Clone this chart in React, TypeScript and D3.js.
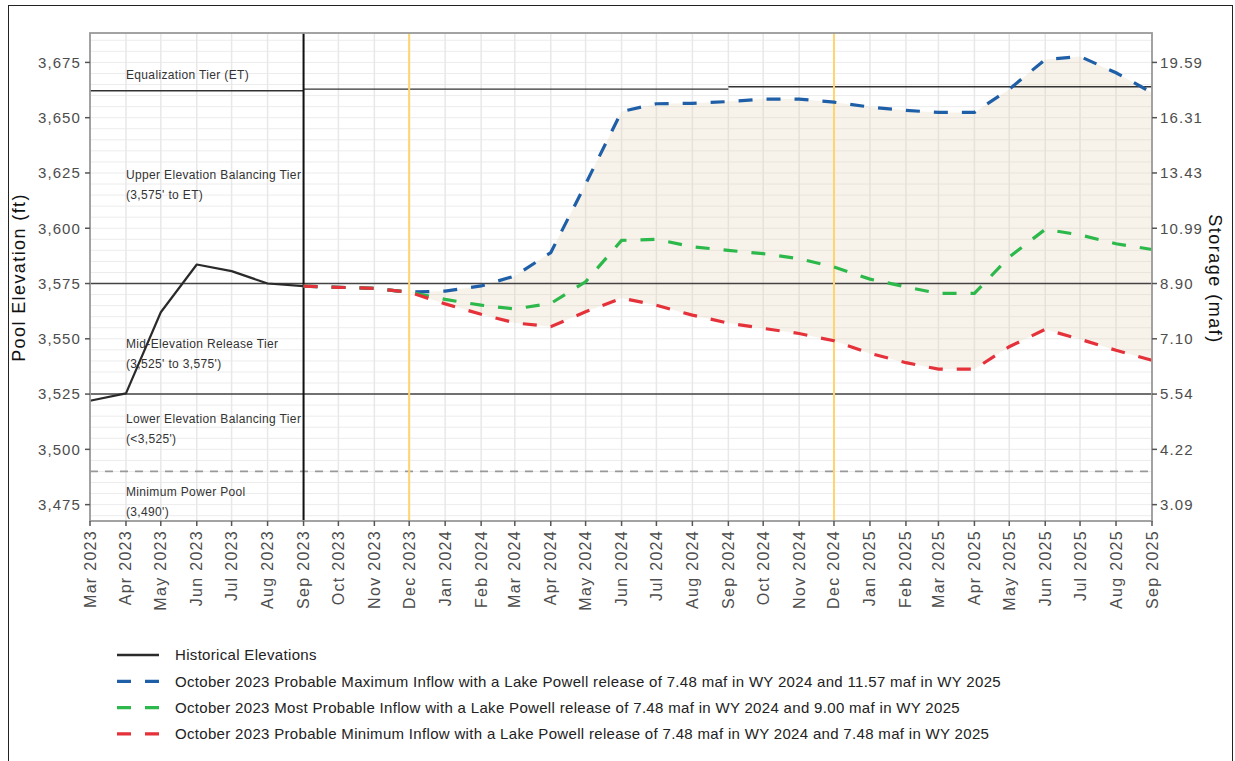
import React from "react";
import * as d3 from "d3";

// ---------- data ----------
const histMonths = ["2023-03", "2023-04", "2023-05", "2023-06", "2023-07", "2023-08", "2023-09"];
const histElev = [3522.0, 3525.3, 3562.0, 3583.6, 3580.6, 3575.0, 3573.8];

const projMonths = [
  "2023-09", "2023-10", "2023-11", "2023-12",
  "2024-01", "2024-02", "2024-03", "2024-04", "2024-05", "2024-06", "2024-07", "2024-08", "2024-09", "2024-10", "2024-11", "2024-12",
  "2025-01", "2025-02", "2025-03", "2025-04", "2025-05", "2025-06", "2025-07", "2025-08", "2025-09",
];
const maxElev = [
  3573.8, 3573.3, 3572.8, 3571.1,
  3571.6, 3573.9, 3578.4, 3589.0, 3620.0, 3652.8, 3656.3, 3656.5, 3657.3, 3658.4, 3658.4, 3657.0,
  3654.8, 3653.3, 3652.4, 3652.4, 3662.9, 3676.3, 3677.7, 3670.3, 3661.3,
];
const mostElev = [
  3573.8, 3573.3, 3572.8, 3571.1,
  3567.8, 3565.2, 3563.5, 3566.0, 3575.8, 3594.5, 3595.0, 3591.6, 3590.0, 3588.5, 3586.2, 3582.5,
  3577.0, 3573.5, 3570.5, 3570.5, 3587.0, 3599.5, 3597.0, 3593.0, 3590.4,
];
const minElev = [
  3573.8, 3573.3, 3572.8, 3571.1,
  3565.8, 3561.1, 3557.2, 3555.5, 3562.2, 3568.4, 3565.2, 3560.7, 3557.1, 3554.7, 3552.4, 3549.1,
  3543.4, 3539.2, 3536.3, 3536.3, 3546.4, 3554.3, 3549.8, 3544.8, 3540.3,
];

// Equalization tier segments: [start month, end month, elevation]
const etStarts = ["2023-03", "2023-09", "2024-09"];
const etEnds = ["2023-09", "2024-09", "2025-09"];
const etElev = [3662.2, 3662.9, 3664.0];

const tierElev = [3575, 3525];
const minPowerPool = 3490;

const leftTicks = [3675, 3650, 3625, 3600, 3575, 3550, 3525, 3500, 3475];
const rightTickLabels = ["19.59", "16.31", "13.43", "10.99", "8.90", "7.10", "5.54", "4.22", "3.09"];

const tierLabels = [
  ["Equalization Tier (ET)"],
  ["Upper Elevation Balancing Tier", "(3,575' to ET)"],
  ["Mid-Elevation Release Tier", "(3,525' to 3,575')"],
  ["Lower Elevation Balancing Tier", "(<3,525')"],
  ["Minimum Power Pool", "(3,490')"],
];
const tierLabelElev = [3669.3, 3624.1, 3547.6, 3513.7, 3480.7];

const yellowMonths = ["2023-12", "2024-12"];
const wyBreakMonth = "2023-09";

const legendLabels = [
  "Historical Elevations",
  "October 2023 Probable Maximum Inflow with a Lake Powell release of 7.48 maf in WY 2024 and 11.57 maf in WY 2025",
  "October 2023 Most Probable Inflow with a Lake Powell release of 7.48 maf in WY 2024 and 9.00 maf in WY 2025",
  "October 2023 Probable Minimum Inflow with a Lake Powell release of 7.48 maf in WY 2024 and 7.48 maf in WY 2025",
];

// ---------- styles ----------
const W = 1235;
const H = 761;
const L = 90, R = 1152, T = 33, B = 521;
const FONT = "'Liberation Sans', Arial, Helvetica, sans-serif";
const BLUE = "#1f5fa8";
const GREEN = "#2db84b";
const RED = "#e5323a";
const HIST = "#2a2a2a";

const parse = d3.timeParse("%Y-%m");
const fmt = d3.timeFormat("%b %Y");

export default function App() {
  const x = d3.scaleTime().domain([parse("2023-03")!, parse("2025-09")!]).range([L, R]);
  const y = d3.scaleLinear().domain([3467.6, 3688.3]).range([B, T]);

  const monthTicks = d3.timeMonth.range(parse("2023-03")!, d3.timeMonth.offset(parse("2025-09")!, 1));
  const hGrid = d3.range(3470, 3690, 5);

  const line = d3
    .line<[Date, number]>()
    .x((d) => x(d[0]))
    .y((d) => y(d[1]));

  const pd = projMonths.map((m) => parse(m)!);
  const histPts: [Date, number][] = histMonths.map((m, i) => [parse(m)!, histElev[i]]);
  const maxPts: [Date, number][] = pd.map((d, i) => [d, maxElev[i]]);
  const mostPts: [Date, number][] = pd.map((d, i) => [d, mostElev[i]]);
  const minPts: [Date, number][] = pd.map((d, i) => [d, minElev[i]]);

  const area = d3
    .area<number>()
    .x((i) => x(pd[i]))
    .y0((i) => y(minElev[i]))
    .y1((i) => y(maxElev[i]));

  const legendColors = [HIST, BLUE, GREEN, RED];

  return (
    <svg
      width={W}
      height={H}
      style={{ position: "absolute", left: 0, top: 0, background: "#fff" }}
      fontFamily={FONT}
    >
      <rect x={0} y={0} width={W} height={H} fill="#fff" />
      {/* outer frame */}
      <rect x={8.5} y={5.5} width={1224} height={800} fill="none" stroke="#222" strokeWidth={1} />

      {/* panel background & grid */}
      <rect x={L} y={T} width={R - L} height={B - T} fill="#fff" />
      {hGrid.map((v) => (
        <line key={"h" + v} x1={L} x2={R} y1={y(v)} y2={y(v)} stroke="#ececec" strokeWidth={1} />
      ))}
      {monthTicks.map((d, i) => (
        <line key={"v" + i} x1={x(d)} x2={x(d)} y1={T} y2={B} stroke="#e8e8e8" strokeWidth={1.5} />
      ))}

      {/* shaded range */}
      <path d={area(d3.range(pd.length)) || ""} fill="rgb(222,208,170)" fillOpacity={0.25} />

      {/* tier lines */}
      {etElev.map((v, i) => (
        <line
          key={"et" + i}
          x1={x(parse(etStarts[i])!)}
          x2={x(parse(etEnds[i])!)}
          y1={y(v)}
          y2={y(v)}
          stroke="#333"
          strokeWidth={1.4}
        />
      ))}
      {tierElev.map((v) => (
        <line key={"t" + v} x1={L} x2={R} y1={y(v)} y2={y(v)} stroke="#444" strokeWidth={1.5} />
      ))}
      <line
        x1={L}
        x2={R}
        y1={y(minPowerPool)}
        y2={y(minPowerPool)}
        stroke="#999"
        strokeWidth={1.8}
        strokeDasharray="8 7"
      />

      {/* vertical markers */}
      {yellowMonths.map((m) => (
        <line key={m} x1={x(parse(m)!)} x2={x(parse(m)!)} y1={T} y2={B} stroke="#ffd36e" strokeWidth={2} />
      ))}
      <line x1={x(parse(wyBreakMonth)!)} x2={x(parse(wyBreakMonth)!)} y1={T} y2={B} stroke="#111" strokeWidth={2} />

      {/* tier labels */}
      {tierLabels.map((lines, i) => (
        <text key={"tl" + i} x={x(parse("2023-04")!)} y={y(tierLabelElev[i])} fontSize={12} fill="#333" letterSpacing={0.35}>
          {lines.map((s, j) => (
            <tspan key={j} x={x(parse("2023-04")!)} dy={j === 0 ? "0.35em" : 19.5}>
              {s}
            </tspan>
          ))}
        </text>
      ))}

      {/* data lines */}
      <path d={line(histPts) || ""} fill="none" stroke={HIST} strokeWidth={2.2} strokeLinejoin="round" />
      <path d={line(maxPts) || ""} fill="none" stroke={BLUE} strokeWidth={3.2} strokeDasharray="14 14" />
      <path d={line(mostPts) || ""} fill="none" stroke={GREEN} strokeWidth={3.2} strokeDasharray="14 14" />
      <path d={line(minPts) || ""} fill="none" stroke={RED} strokeWidth={3.2} strokeDasharray="14 14" />

      {/* panel border */}
      <rect x={L} y={T} width={R - L} height={B - T} fill="none" stroke="#9a9a9a" strokeWidth={1.8} />

      {/* left axis */}
      {leftTicks.map((v) => (
        <g key={"lt" + v}>
          <line x1={L - 5} x2={L} y1={y(v)} y2={y(v)} stroke="#555" strokeWidth={1.5} />
          <text x={L - 9} y={y(v)} dy="0.36em" textAnchor="end" fontSize={15} fill="#4d4d4d" letterSpacing={1.1}>
            {d3.format(",")(v)}
          </text>
        </g>
      ))}
      {/* right axis */}
      {leftTicks.map((v, i) => (
        <g key={"rt" + v}>
          <line x1={R} x2={R + 5} y1={y(v)} y2={y(v)} stroke="#555" strokeWidth={1.5} />
          <text x={R + 8} y={y(v)} dy="0.36em" textAnchor="start" fontSize={15} fill="#4d4d4d" letterSpacing={1.1}>
            {rightTickLabels[i]}
          </text>
        </g>
      ))}
      {/* bottom axis */}
      {monthTicks.map((d, i) => (
        <g key={"bt" + i}>
          <line x1={x(d)} x2={x(d)} y1={B} y2={B + 5} stroke="#555" strokeWidth={1.5} />
          <text
            transform={`translate(${x(d) + 5.5},${B + 9}) rotate(-90)`}
            textAnchor="end"
            fontSize={16}
            fill="#4d4d4d"
            letterSpacing={1.3}
          >
            {fmt(d)}
          </text>
        </g>
      ))}

      {/* axis titles */}
      <text transform={`translate(25,277.5) rotate(-90)`} textAnchor="middle" fontSize={18} fill="#111" letterSpacing={1.4}>
        Pool Elevation (ft)
      </text>
      <text transform={`translate(1209,279) rotate(90)`} textAnchor="middle" fontSize={18} fill="#111" letterSpacing={1.5}>
        Storage (maf)
      </text>

      {/* legend */}
      {legendLabels.map((s, i) => {
        const ly = 655 + i * 26.3;
        return (
          <g key={"lg" + i}>
            <line
              x1={117}
              x2={159}
              y1={ly}
              y2={ly}
              stroke={legendColors[i]}
              strokeWidth={i === 0 ? 2.4 : 3.2}
              strokeDasharray={i === 0 ? undefined : "14 14"}
            />
            <text x={175} y={ly} dy="0.35em" fontSize={15} fill="#222" letterSpacing={0.32}>
              {s}
            </text>
          </g>
        );
      })}
    </svg>
  );
}
